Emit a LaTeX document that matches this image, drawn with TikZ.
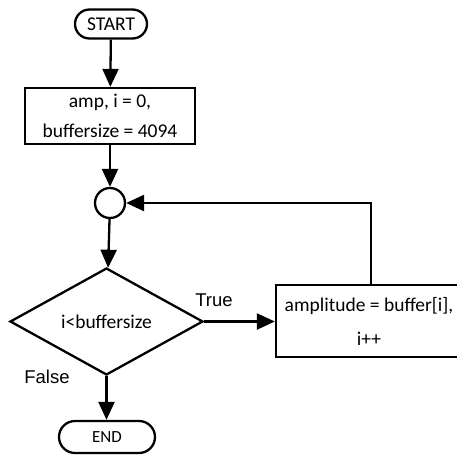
\documentclass[tikz,border=0pt]{standalone}
\usepackage{fontspec}
\setmainfont{Carlito}
\newfontfamily\labelfont{Liberation Sans}
\usetikzlibrary{arrows.meta,shapes.geometric,shapes.misc}
\begin{document}
\begin{tikzpicture}[x=1pt,y=-1pt,
  line width=2.3pt,
  flow/.style={-{Triangle[width=16pt,length=18pt]}},
  term/.style={draw, rounded rectangle, inner sep=0pt},
  proc/.style={draw, rectangle, inner sep=0pt, align=center},
  decide/.style={draw, diamond, inner sep=0pt, font=\fontsize{19.5}{23}\selectfont},
  joint/.style={draw, circle, inner sep=0pt, minimum size=30pt},
  tag/.style={font=\labelfont\fontsize{18.5}{22}\selectfont}]
\useasboundingbox (0,0) rectangle (456,460);

\node[term, minimum width=72pt, minimum height=29pt, font=\fontsize{19.5}{22}\selectfont] (start) at (111,24) {START};
\node[proc, minimum width=170pt, minimum height=56pt, font=\fontsize{19.5}{30}\selectfont] (init) at (110,116)
  {amp, i = 0,\\buffersize = 4094};
\node[joint] (merge) at (110,203) {};
\node[decide, minimum width=193pt, minimum height=107pt] (test) at (106.5,321.5) {i<buffersize};
\node[proc, minimum width=186pt, minimum height=72pt, font=\fontsize{19.5}{34}\selectfont] (body) at (369,321)
  {amplitude = buffer[i],\\i++};
\node[term, minimum width=96pt, minimum height=32pt, font=\fontsize{17}{20}\selectfont] (stop) at (107,437) {END};

\node[tag] at (214,300) {True};
\node[tag] at (47,377) {False};

\coordinate (back) at (371,203);

\draw[flow] (start) -- (init);
\draw[flow] (init) -- (merge);
\draw[flow] (merge) -- (test);
\draw[flow] (test.east) -- (body.west |- test.east);
\draw[flow] (body.north -| back) |- (merge.east);
\draw[flow] (test.south) -- (stop.north -| test.south);
\end{tikzpicture}
\end{document}
